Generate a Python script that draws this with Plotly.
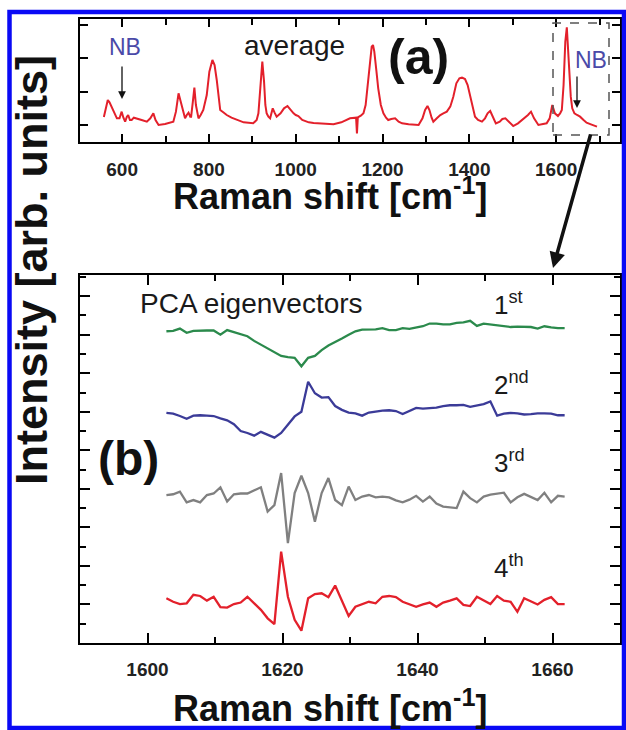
import plotly.graph_objects as go

W, H = 626, 730

# ---------------- data: panel (a) average spectrum ----------------
avg_shift = [558, 562, 567, 571, 576, 582, 588, 594, 599, 603, 607, 611, 614, 618, 622, 627, 634, 645, 657,
             665, 672, 677, 684, 699, 718, 724, 730, 734, 737.5, 742, 745, 749, 753, 757, 759, 763, 766.5,
             770, 776, 781, 787, 795, 801, 808, 813, 818, 822, 826, 833, 841, 852, 864, 880, 902, 910, 914,
             918, 923, 927, 930, 933, 937, 941, 947, 951, 956, 965, 973, 981, 988, 995, 1000, 1006, 1015,
             1030, 1041, 1060, 1087, 1105, 1125, 1139, 1141, 1143, 1150, 1156, 1161, 1165, 1170, 1175, 1178,
             1181, 1186, 1190, 1196, 1202, 1208, 1213, 1220, 1229, 1237, 1245, 1260, 1283, 1292, 1298, 1303.5,
             1308, 1313, 1317, 1325, 1333, 1340, 1348, 1356, 1363, 1370, 1377, 1383, 1390, 1396, 1402, 1408,
             1413, 1420, 1429, 1436, 1442, 1448, 1454, 1461, 1470, 1476, 1483, 1490, 1501, 1512, 1524, 1535,
             1542, 1549, 1559, 1570, 1578, 1585, 1591, 1597, 1604, 1609, 1613, 1617, 1621, 1624.5, 1628, 1631,
             1633.6, 1637, 1642, 1648, 1655, 1663, 1670, 1680, 1690, 1694]
avg_intensity = [0.24, 0.5, 0.75, 0.68, 0.55, 0.35, 0.2, 0.2, 0.4, 0.22, 0.1, 0.25, 0.3, 0.15, 0.15, 0.22, 0.2,
                 0.15, 0.1, 0.2, 0.35, 0.15, 0.0, 0.03, 0.1, 0.4, 0.95, 0.75, 0.55, 0.3, 0.2, 0.3, 0.37, 0.25,
                 0.25, 0.7, 1.12, 0.6, 0.2, 0.3, 0.45, 0.9, 1.6, 1.95, 1.8, 1.35, 0.8, 0.45, 0.38, 0.3, 0.22,
                 0.15, 0.08, 0.05, 0.15, 0.35, 1.1, 1.9, 1.3, 0.6, 0.35, 0.25, 0.2, 0.5, 0.38, 0.25, 0.35, 0.5,
                 0.57, 0.45, 0.35, 0.3, 0.27, 0.15, 0.08, 0.06, 0.04, 0.02, 0.08, 0.2, 0.22, -0.25, 0.23, 0.28,
                 0.35, 0.6, 1.1, 1.8, 2.35, 2.4, 2.2, 1.6, 1.1, 0.6, 0.35, 0.22, 0.15, 0.18, 0.2, 0.1, 0.05,
                 0.02, 0.0, 0.2, 0.45, 0.57, 0.45, 0.22, 0.1, 0.2, 0.3, 0.35, 0.4, 0.55, 0.85, 1.25, 1.4, 1.42,
                 1.38, 1.2, 0.85, 0.5, 0.25, 0.15, 0.1, 0.2, 0.35, 0.42, 0.25, 0.05, 0.1, 0.18, 0.2, 0.1, -0.03,
                 0.05, 0.17, 0.3, 0.4, 0.2, 0.0, 0.02, 0.05, 0.2, 0.6, 0.35, 0.27, 0.35, 0.45, 1.2, 2.5, 2.93,
                 2.2, 1.3, 0.85, 0.5, 0.35, 0.3, 0.25, 0.15, 0.07, 0.02, -0.03, -0.05]

# ---------------- data: panel (b) PCA eigenvectors ----------------
pca_shift = [1602.8, 1603.8, 1604.8, 1605.8, 1606.8, 1607.8, 1608.8, 1609.8, 1610.8, 1611.8,
             1612.8, 1613.8, 1614.8, 1615.8, 1616.8, 1617.8, 1618.8, 1619.8, 1620.8, 1621.8,
             1622.8, 1623.8, 1624.8, 1625.8, 1626.8, 1627.8, 1628.8, 1629.8, 1630.8, 1631.8,
             1632.8, 1633.8, 1634.8, 1635.8, 1636.8, 1637.8, 1638.8, 1639.8, 1640.8, 1641.8,
             1642.8, 1643.8, 1644.8, 1645.8, 1646.8, 1647.8, 1648.8, 1649.8, 1650.8, 1651.8,
             1652.8, 1653.8, 1654.8, 1655.8, 1656.8, 1657.8, 1658.8, 1659.8, 1660.8, 1661.8]

pc1 = [8.09, 8.10, 8.16, 8.05, 8.10, 8.11, 8.11, 8.11, 8.00, 8.12,
       8.07, 8.00, 7.96, 7.84, 7.74, 7.64, 7.56, 7.45, 7.42, 7.40,
       7.18, 7.40, 7.45, 7.60, 7.72, 7.80, 7.90, 8.00, 8.09, 8.13,
       8.13, 8.14, 8.17, 8.12, 8.12, 8.17, 8.15, 8.18, 8.22, 8.29,
       8.29, 8.27, 8.27, 8.31, 8.32, 8.36, 8.23, 8.29, 8.27, 8.25,
       8.22, 8.20, 8.21, 8.21, 8.20, 8.16, 8.22, 8.19, 8.17, 8.17]

pc2 = [5.97, 5.95, 5.89, 5.82, 5.90, 5.91, 5.90, 5.89, 5.83, 5.78,
       5.68, 5.50, 5.45, 5.38, 5.48, 5.40, 5.33, 5.45, 5.68, 5.88,
       6.00, 6.78, 6.48, 6.37, 6.38, 6.15, 6.05, 5.98, 5.96, 5.90,
       5.98, 6.01, 6.03, 6.04, 6.02, 5.94, 6.02, 6.10, 6.08, 6.10,
       6.11, 6.15, 6.17, 6.17, 6.18, 6.13, 6.17, 6.20, 6.27, 5.90,
       5.95, 5.97, 5.96, 5.93, 5.94, 5.96, 5.96, 5.95, 5.91, 5.91]

pc3 = [3.84, 3.86, 3.93, 3.65, 3.71, 3.65, 3.84, 3.88, 4.04, 3.67,
       3.86, 3.88, 3.88, 3.95, 4.04, 3.41, 3.58, 4.41, 2.59, 3.89,
       4.34, 3.89, 3.15, 3.89, 4.28, 3.71, 3.58, 4.06, 3.71, 3.80,
       3.84, 3.78, 3.80, 3.78, 3.70, 3.65, 3.72, 3.82, 3.67, 3.80,
       3.62, 3.54, 3.52, 3.50, 3.93, 3.76, 3.65, 3.80, 3.85, 3.87,
       3.90, 3.65, 3.78, 3.87, 3.78, 3.71, 3.90, 3.65, 3.82, 3.80]

pc4 = [1.16, 1.07, 1.01, 1.03, 1.25, 1.22, 1.10, 1.20, 0.93, 0.92,
       1.01, 1.05, 1.20, 1.03, 0.86, 0.64, 0.49, 2.37, 1.20, 0.60,
       0.32, 1.16, 1.27, 1.29, 1.19, 1.49, 1.08, 0.70, 0.94, 1.01,
       1.07, 1.03, 1.20, 1.22, 1.19, 1.07, 1.00, 0.94, 1.00, 1.05,
       0.94, 1.05, 1.10, 1.16, 0.99, 0.96, 1.20, 1.10, 1.01, 1.22,
       1.10, 1.07, 0.81, 1.16, 1.07, 1.00, 1.12, 1.19, 1.01, 1.01]

pc_names = ["1st", "2nd", "3rd", "4th"]
pc_colors = ["#2b8a4c", "#3b3b98", "#808080", "#e3202b"]

FONT = "Liberation Sans, Arial, sans-serif"


def px(x):
    return x / W


def py(y):
    return 1 - y / H


fig = go.Figure()
fig.add_trace(go.Scatter(x=avg_shift, y=avg_intensity, mode="lines",
                         line=dict(color="#e3202b", width=2), xaxis="x", yaxis="y",
                         showlegend=False, hoverinfo="skip"))
for vals, col in zip([pc1, pc2, pc3, pc4], pc_colors):
    fig.add_trace(go.Scatter(x=pca_shift, y=vals, mode="lines",
                             line=dict(color=col, width=2.3), xaxis="x2", yaxis="y2",
                             showlegend=False, hoverinfo="skip"))

axis_common = dict(showline=True, linecolor="black", linewidth=2, mirror="ticks",
                   ticks="inside", tickcolor="black", tickwidth=1.5, showgrid=False,
                   zeroline=False, fixedrange=True)
tickfont = dict(family=FONT, size=19, color="#222", weight="bold")

fig.update_layout(
    width=W, height=H, margin=dict(l=0, r=0, t=0, b=0),
    paper_bgcolor="white", plot_bgcolor="white",
    xaxis=dict(domain=[px(80), px(620)], anchor="y", range=[503, 1747],
               tick0=0, dtick=200, ticklen=8, tickfont=tickfont, ticklabelstandoff=9,
               minor=dict(ticks="inside", dtick=100, tick0=0, ticklen=6, tickcolor="black", tickwidth=1.5),
               **axis_common),
    yaxis=dict(domain=[py(142), py(19)], anchor="x", range=[-0.51, 3.18],
               tick0=0, dtick=1, ticklen=8, showticklabels=False, **axis_common),
    xaxis2=dict(domain=[px(80), px(620)], anchor="y2", range=[1590, 1670],
                tick0=0, dtick=20, ticklen=10, tickfont=tickfont, ticklabelstandoff=8,
                minor=dict(ticks="inside", dtick=10, tick0=0, ticklen=6, tickcolor="black", tickwidth=1.5),
                **axis_common),
    yaxis2=dict(domain=[py(643), py(275)], anchor="x2", range=[0, 9.55],
                tick0=0, dtick=1, ticklen=10, showticklabels=False,
                minor=dict(ticks="inside", dtick=1, tick0=0.5, ticklen=6, tickcolor="black", tickwidth=1.5),
                **axis_common),
)

ann = []


def text(x, y, s, size, color="#1a1a1a", bold=False, angle=0, xanchor="center", yanchor="middle"):
    ann.append(dict(x=px(x), y=py(y), xref="paper", yref="paper", text=s, showarrow=False,
                    xanchor=xanchor, yanchor=yanchor, textangle=angle,
                    font=dict(family=FONT, size=size, color=color, weight="bold" if bold else "normal")))


NB_COLOR = "#4a4aa8"
text(125, 47, "NB", 23, NB_COLOR)
text(294, 45, "average", 28)
text(418, 57, "(a)", 50, "#111", bold=True)
text(591, 60, "NB", 23, NB_COLOR)
text(330, 194, "Raman shift [cm<sup>-1</sup>]", 36, "#111", bold=True)
text(330, 706, "Raman shift [cm<sup>-1</sup>]", 36, "#111", bold=True)
text(32, 270, "Intensity [arb. units]", 45, "#111", bold=True, angle=-90)
text(251, 303, "PCA eigenvectors", 28)
text(128, 458, "(b)", 48, "#111", bold=True)
label_y = [303, 384, 461, 566]
for nm, yy in zip(pc_names, label_y):
    text(492, yy, nm[0] + "<sup>" + nm[1:] + "</sup>", 26, xanchor="left")

# small NB arrows
for (hx, hy, ty) in [(122, 99, 65), (577, 108, 75)]:
    ann.append(dict(x=px(hx), y=py(hy), xref="paper", yref="paper", ax=0, ay=ty - hy,
                    axref="pixel", ayref="pixel", text="", showarrow=True,
                    arrowhead=2, arrowsize=1.2, arrowwidth=1.3, arrowcolor="#111"))
# big arrow from the dashed box to panel (b)
ann.append(dict(x=px(553), y=py(268), xref="paper", yref="paper", ax=591 - 553, ay=133 - 268,
                text="", showarrow=True, arrowhead=2, arrowsize=0.9, arrowwidth=3.5, arrowcolor="#111"))

fig.update_layout(annotations=ann)

shapes = [
    # dashed selection box
    dict(type="rect", xref="paper", yref="paper", x0=px(553), x1=px(609), y0=py(135), y1=py(23),
         line=dict(color="#555", width=1.5, dash="dash")),
    # blue outer frame
    dict(type="rect", xref="paper", yref="paper", x0=px(9.5), x1=px(624), y0=py(728), y1=py(12),
         line=dict(color="#0a0af5", width=4.5)),
]
fig.update_layout(shapes=shapes)

fig.write_html("out.html")
